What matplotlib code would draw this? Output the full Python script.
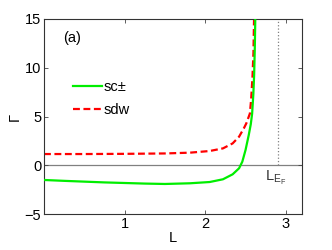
import matplotlib
matplotlib.use('Agg')
import matplotlib.pyplot as plt
import numpy as np

# green curve, sc+-
sc_L = [0.0, 0.25, 0.5, 0.75, 1.0, 1.25, 1.5, 1.81, 2.055, 2.22, 2.34, 2.42, 2.46,
        2.50, 2.54, 2.565, 2.582, 2.597, 2.607, 2.615, 2.622]
sc_G = [-1.51, -1.6, -1.68, -1.76, -1.82, -1.88, -1.92, -1.85, -1.72, -1.44, -0.93, -0.31, 0.36,
        1.56, 3.1, 4.2, 5.3, 7.3, 9.3, 12.0, 15.5]

# red dashed curve, sdw
sdw_L = [0.0, 0.5, 1.0, 1.5, 1.81, 2.055, 2.22, 2.34, 2.42, 2.48, 2.51, 2.554, 2.57, 2.586, 2.598, 2.607]
sdw_G = [1.15, 1.15, 1.17, 1.21, 1.29, 1.46, 1.73, 2.24, 2.93, 3.8, 4.3, 5.3, 6.8, 9.0, 11.5, 15.5]

L_EF = 2.9

plt.rcParams['font.family'] = 'Liberation Sans'
plt.rcParams['font.size'] = 10.5

fig = plt.figure(figsize=(3.32, 2.5), dpi=100)
ax = fig.add_axes([0.1325, 0.144, 0.777, 0.78])

ax.axhline(0, color='#808080', lw=0.9, zorder=1)
ax.plot([L_EF, L_EF], [0, 15], color='#808080', lw=0.9, ls=':', zorder=1)

ax.plot(sc_L, sc_G, color='#00ee00', lw=1.6, label='sc\u00b1', zorder=3)
ax.plot(sdw_L, sdw_G, color='#ff0000', lw=1.6, ls=(0, (3.1, 1.6)), label='sdw', zorder=2)

ax.set_xlim(0, 3.2)
ax.set_ylim(-5, 15)
ax.set_xticks([1, 2, 3])
ax.set_yticks([-5, 0, 5, 10, 15])
ax.tick_params(direction='in', top=True, right=True, length=3, width=0.6, color='#444444', pad=2)
for s in ax.spines.values():
    s.set_linewidth(0.8)
    s.set_color('#333333')

ax.set_xlabel('L', labelpad=0)
ax.set_ylabel('\u0393', labelpad=2)

ax.text(0.24, 12.6, '(a)')
ax.text(L_EF - 0.03, -0.35, r'$\mathregular{L_{E_F}}$', ha='center', va='top', color='#333333')

ax.legend(loc='upper left', bbox_to_anchor=(0.085, 0.725), frameon=False, handlelength=1.95,
          handletextpad=0.15, labelspacing=0.62, borderpad=0)

fig.savefig('out.png', dpi=100)
